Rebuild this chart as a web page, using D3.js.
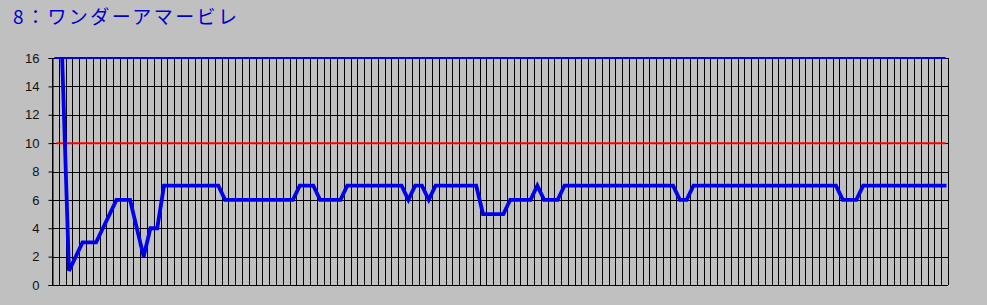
<html>
<head>
<meta charset="utf-8">
<script src="https://d3js.org/d3.v7.min.js"></script>
<style>
body{margin:0;background:#c0c0c0;}
svg{display:block;}
</style>
</head>
<body>
<div id="chart"></div>
<script>
const title = '8：ワンダーアマービレ';
const yTicks = [0, 2, 4, 6, 8, 10, 12, 14, 16];
const topLevel = 16;
const redLevel = 10;
// one value per step, first step has no value
const rank = [
  null, 16, 1, 2, 3, 3, 3, 4, 5, 6,
  6, 6, 4, 2, 4, 4, 7, 7, 7, 7,
  7, 7, 7, 7, 7, 6, 6, 6, 6, 6,
  6, 6, 6, 6, 6, 6, 7, 7, 7, 6,
  6, 6, 6, 7, 7, 7, 7, 7, 7, 7,
  7, 7, 6, 7, 7, 6, 7, 7, 7, 7,
  7, 7, 7, 5, 5, 5, 5, 6, 6, 6,
  6, 7, 6, 6, 6, 7, 7, 7, 7, 7,
  7, 7, 7, 7, 7, 7, 7, 7, 7, 7,
  7, 7, 6, 6, 7, 7, 7, 7, 7, 7,
  7, 7, 7, 7, 7, 7, 7, 7, 7, 7,
  7, 7, 7, 7, 7, 7, 6, 6, 6, 7,
  7, 7, 7, 7, 7, 7, 7, 7, 7, 7,
  7, 7
];

const width = 987;
const height = 305;
const margin = {top:58, left:52, right:39, bottom:20};
const plotRight = width - margin.right;
const plotBottom = height - margin.bottom;

const steps = rank.map((d, i) => i);

const x = d3.scaleBand()
  .domain(steps)
  .range([margin.left, plotRight]);

const y = d3.scaleLinear()
  .domain([0, 16])
  .range([plotBottom, margin.top]);

const svg = d3.select('#chart')
  .append('svg')
    .attr('width', width)
    .attr('height', height);

svg.append('rect')
  .attr('width', width)
  .attr('height', height)
  .attr('fill', '#c0c0c0');

svg.append('clipPath')
  .attr('id', 'plot-clip')
  .append('rect')
    .attr('x', margin.left)
    .attr('y', y(16) - 1)
    .attr('width', plotRight - margin.left)
    .attr('height', y(0) - y(16) + 3);

svg.append('text')
  .attr('x', 13)
  .attr('y', 24)
  .attr('fill', '#0000cc')
  .attr('font-family', '"Noto Sans CJK JP", sans-serif')
  .attr('font-size', 19)
  .attr('textLength', 224)
  .attr('lengthAdjust', 'spacing')
  .text(title);

// vertical grid on every step boundary
svg.append('g')
  .selectAll('line')
  .data(steps.concat([steps.length]))
  .enter()
  .append('line')
    .attr('x1', d => Math.round(d < steps.length ? x(d) : x.range()[1]) + 0.5)
    .attr('x2', d => Math.round(d < steps.length ? x(d) : x.range()[1]) + 0.5)
    .attr('y1', y(16))
    .attr('y2', y(0))
    .attr('stroke', '#000')
    .attr('stroke-width', 1);

// horizontal grid
svg.append('g')
  .selectAll('line')
  .data(yTicks)
  .enter()
  .append('line')
    .attr('x1', margin.left)
    .attr('x2', plotRight)
    .attr('y1', d => Math.round(y(d)) + 0.5)
    .attr('y2', d => Math.round(y(d)) + 0.5)
    .attr('stroke', '#000')
    .attr('stroke-width', 1);

const yAxis = svg.append('g')
  .attr('transform', `translate(${margin.left + 0.5},0)`)
  .call(d3.axisLeft(y).tickValues(yTicks).tickSize(4).tickPadding(9));
yAxis.select('.domain').attr('stroke', '#000');
yAxis.selectAll('.tick line').attr('stroke', '#000');
yAxis.selectAll('.tick text')
  .attr('fill', '#111')
  .attr('font-family', '"Liberation Sans", Arial, sans-serif')
  .attr('font-size', 13);

const first = x(steps[0]) + x.bandwidth() / 2;
const last = x(steps[steps.length - 1]) + x.bandwidth() / 2;

svg.append('line')
  .attr('x1', first - 1)
  .attr('x2', last + 1)
  .attr('y1', y(topLevel))
  .attr('y2', y(topLevel))
  .attr('stroke', '#0000ee')
  .attr('stroke-width', 2);

svg.append('line')
  .attr('x1', first + 1)
  .attr('x2', last + 1)
  .attr('y1', y(redLevel))
  .attr('y2', y(redLevel))
  .attr('stroke', '#ff0000')
  .attr('stroke-width', 2);

const line = d3.line()
  .defined(d => d != null)
  .x((d, i) => x(steps[i]) + x.bandwidth() / 2)
  .y(d => y(d));

svg.append('path')
  .datum(rank)
  .attr('clip-path', 'url(#plot-clip)')
  .attr('d', line)
  .attr('fill', 'none')
  .attr('stroke', '#0000ee')
  .attr('stroke-width', 3.8)
  .attr('stroke-linejoin', 'miter')
  .attr('stroke-linecap', 'square');
</script>
</body>
</html>
